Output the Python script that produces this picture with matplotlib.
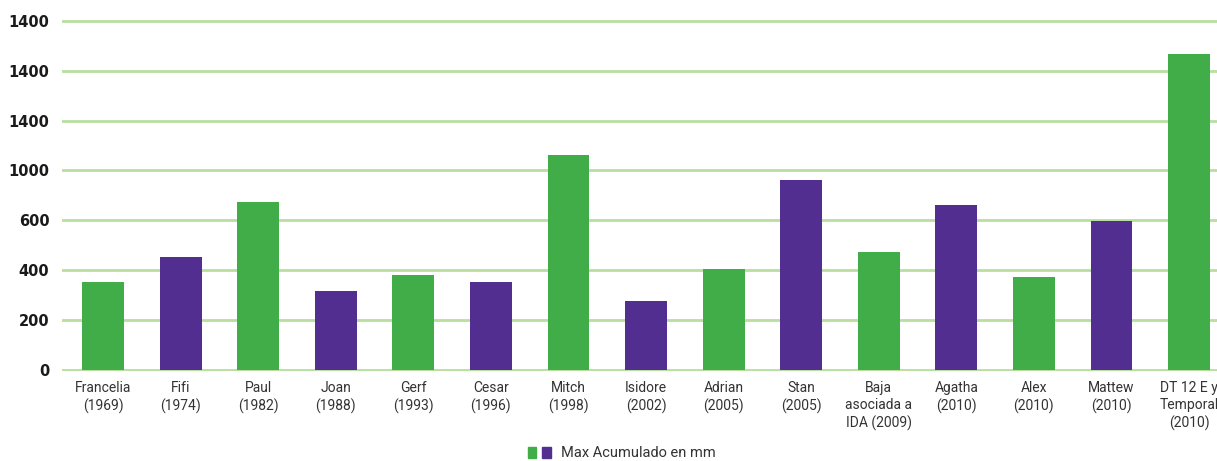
import matplotlib
matplotlib.use("Agg")
import matplotlib.pyplot as plt
from matplotlib.patches import Patch
from matplotlib.legend_handler import HandlerTuple

categories = ["Francelia\n(1969)", "Fifi\n(1974)", "Paul\n(1982)", "Joan\n(1988)",
              "Gerf\n(1993)", "Cesar\n(1996)", "Mitch\n(1998)", "Isidore\n(2002)",
              "Adrian\n(2005)", "Stan\n(2005)", "Baja\nasociada a\nIDA (2009)",
              "Agatha\n(2010)", "Alex\n(2010)", "Mattew\n(2010)", "DT 12 E y\nTemporal\n(2010)"]
values = [354, 455, 672, 318, 382, 354, 861, 278, 406, 760, 475, 660, 374, 596, 1268]
bar_groups = ["g", "p", "g", "p", "g", "p", "g", "p", "g", "p", "g", "p", "g", "p", "g"]
ytick_values = [0, 200, 400, 600, 800, 1000, 1200, 1400]
ytick_labels = ["0", "200", "400", "600", "1000", "1400", "1400", "1400"]
legend_label = "Max Acumulado en mm"

GREEN = "#41ad49"
PURPLE = "#522e91"
GRID = "#b8dea0"

fig = plt.figure(figsize=(12.17, 4.61), dpi=100)
ax = fig.add_axes([0.0509, 0.1948, 0.9491, 0.768])

colors = [GREEN if g == "g" else PURPLE for g in bar_groups]
x = list(range(len(categories)))
ax.bar(x, values, width=0.54, color=colors, zorder=3)

ax.set_xlim(-0.53, 14.36)
ax.set_ylim(-5, 1415)
ax.set_yticks(ytick_values)
ax.set_yticklabels(ytick_labels, fontsize=10.5, fontweight="bold", color="#1a1a1a",
                   family="DejaVu Sans")
ax.set_xticks(x)
ax.set_xticklabels(categories, fontsize=10, color="#333333", family="Roboto",
                   linespacing=1.3)
ax.tick_params(axis="y", length=0, pad=9)
ax.tick_params(axis="x", length=0, pad=7)
ax.grid(axis="y", color=GRID, linewidth=2, zorder=1)
ax.set_axisbelow(True)
for s in ax.spines.values():
    s.set_visible(False)

handles = [(Patch(color=GREEN), Patch(color=PURPLE))]
fig.legend(handles, [legend_label], loc="center", bbox_to_anchor=(0.511, 0.017),
           frameon=False, handler_map={tuple: HandlerTuple(ndivide=None, pad=0.4)},
           handlelength=1.6, handleheight=0.8, handletextpad=0.7,
           prop={"family": "Roboto", "size": 10.5}, labelcolor="#333333")

fig.savefig("out.png", dpi=100)
